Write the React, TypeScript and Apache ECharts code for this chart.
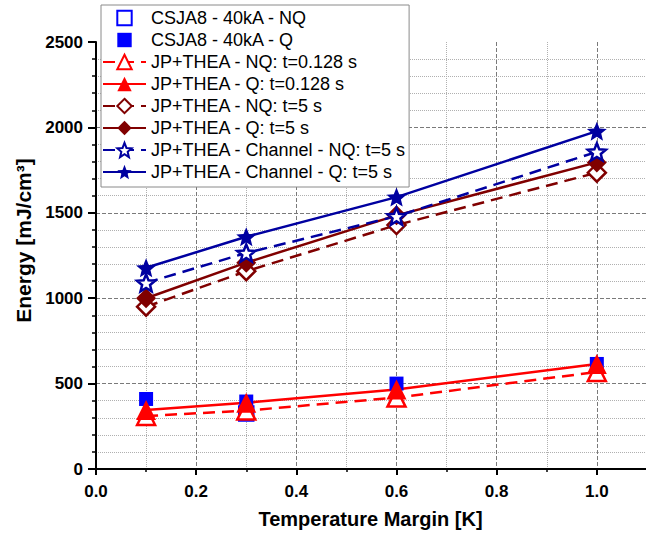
import React, { useEffect, useRef } from "react";
import * as echarts from "echarts";

const xValues = [0.1, 0.3, 0.6, 1.0];
const csjaNQ = [[0.3, 325]];
const csjaQ = [[0.1, 410], [0.3, 395], [0.6, 500], [1.0, 615]];
const thea128NQ = [310, 342, 418, 568];
const thea128Q = [345, 388, 465, 615];
const thea5NQ = [950, 1158, 1428, 1735];
const thea5Q = [1000, 1208, 1485, 1795];
const channelNQ = [1090, 1265, 1480, 1857];
const channelQ = [1178, 1360, 1592, 1978];

const seriesNames = [
  "CSJA8 - 40kA - NQ",
  "CSJA8 - 40kA - Q",
  "JP+THEA - NQ: t=0.128 s",
  "JP+THEA - Q: t=0.128 s",
  "JP+THEA - NQ: t=5 s",
  "JP+THEA - Q: t=5 s",
  "JP+THEA - Channel - NQ: t=5 s",
  "JP+THEA - Channel - Q: t=5 s",
];

const STAR =
  "path://M50,0 L62.93,32.2 L97.55,34.55 L70.92,56.8 L79.39,90.45 L50,72 L20.61,90.45 L29.08,56.8 L2.45,34.55 L37.07,32.2 Z";

const pair = (ys: number[]) => xValues.map((x, i) => [x, ys[i]]);

const FONT = "Arial, 'Liberation Sans', Helvetica, sans-serif";

export default function App() {
  const ref = useRef<HTMLDivElement>(null);
  useEffect(() => {
    if (!ref.current) return;
    const chart = echarts.init(ref.current, undefined, { renderer: "svg" });
    const dash = [12, 7];
    const mk = (
      name: string,
      data: number[][],
      color: string,
      symbol: string,
      size: number,
      hollow: boolean,
      lineType: any,
      lineWidth: number
    ) => ({
      name,
      type: "line",
      data,
      symbol,
      symbolSize: size,
      symbolKeepAspect: true,
      showSymbol: true,
      lineStyle: { color, width: lineWidth, type: lineType },
      itemStyle: hollow
        ? { color: "#ffffff", borderColor: color, borderWidth: 2.5 }
        : { color, borderColor: color, borderWidth: 0 },
      emphasis: { disabled: true },
    });
    const red = "#ff0000";
    const maroon = "#800000";
    const blue = "#0000ff";
    const navy = "#0000a0";
    chart.setOption({
      animation: false,
      textStyle: { fontFamily: FONT },
      grid: { left: 96, right: 0, top: 42, bottom: 66 },
      legend: {
        orient: "vertical",
        left: 101,
        top: 5,
        data: seriesNames,
        selectedMode: false,
        backgroundColor: "#ffffff",
        borderColor: "#8a8a8a",
        borderWidth: 1,
        borderRadius: 0,
        padding: [4, 3, 6, 1],
        itemWidth: 43,
        itemHeight: 18,
        itemGap: 4,
        textStyle: { fontSize: 18, color: "#000", fontFamily: FONT, lineHeight: 18 },
      },
      xAxis: {
        type: "value",
        min: 0,
        max: 1.2,
        interval: 0.2,
        name: "Temperature Margin [K]",
        nameLocation: "middle",
        nameGap: 40,
        nameTextStyle: {
          fontSize: 20,
          fontWeight: "bold",
          color: "#000",
          fontFamily: FONT,
          padding: [0, 52, 0, 0],
        },
        axisLine: { show: true, onZero: false, lineStyle: { color: "#000", width: 2 } },
        axisTick: { show: true, inside: false, length: 6, lineStyle: { color: "#000", width: 2 } },
        minorTick: { show: true, splitNumber: 2, length: 3, lineStyle: { color: "#000", width: 1.5 } },
        axisLabel: {
          margin: 14,
          fontSize: 17,
          fontWeight: "bold",
          color: "#000",
          fontFamily: FONT,
          showMaxLabel: false,
          formatter: (v: number) => (v > 1.05 ? "" : v.toFixed(1)),
        },
        splitLine: { show: true, lineStyle: { color: "#7a7a7a", width: 1, type: "dashed" } },
        minorSplitLine: { show: true, lineStyle: { color: "#b0b0b0", width: 1, type: "dotted" } },
      },
      yAxis: {
        type: "value",
        min: 0,
        max: 2500,
        interval: 500,
        name: "Energy [mJ/cm³]",
        nameLocation: "middle",
        nameGap: 62,
        nameRotate: 90,
        nameTextStyle: {
          fontSize: 21,
          fontWeight: "bold",
          color: "#000",
          fontFamily: FONT,
          padding: [0, 0, 0, 30],
        },
        axisLine: { show: true, onZero: false, lineStyle: { color: "#000", width: 2 } },
        axisTick: { show: true, inside: false, length: 8, lineStyle: { color: "#000", width: 2 } },
        minorTick: { show: true, splitNumber: 5, length: 4, lineStyle: { color: "#000", width: 1.5 } },
        axisLabel: {
          margin: 13,
          fontSize: 17,
          fontWeight: "bold",
          color: "#000",
          fontFamily: FONT,
          formatter: (v: number) => String(v),
        },
        splitLine: {
          show: true,
          showMaxLine: false,
          lineStyle: { color: "#7a7a7a", width: 1, type: "dashed" },
        },
        minorSplitLine: { show: true, lineStyle: { color: "#b0b0b0", width: 1, type: "dotted" } },
      },
      series: [
        { ...mk(seriesNames[0], csjaNQ, blue, "rect", 14, true, "solid", 0), lineStyle: { width: 0, color: blue, opacity: 0 } },
        { ...mk(seriesNames[1], csjaQ, blue, "rect", 14, false, "solid", 0), lineStyle: { width: 0, color: blue, opacity: 0 } },
        mk(seriesNames[2], pair(thea128NQ), red, "triangle", 18, true, dash, 2.5),
        mk(seriesNames[3], pair(thea128Q), red, "triangle", 20, false, "solid", 2.5),
        mk(seriesNames[4], pair(thea5NQ), maroon, "diamond", 18, true, dash, 2.5),
        mk(seriesNames[5], pair(thea5Q), maroon, "diamond", 20, false, "solid", 2.5),
        mk(seriesNames[6], pair(channelNQ), navy, STAR, 18, true, dash, 2.5),
        mk(seriesNames[7], pair(channelQ), navy, STAR, 20, false, "solid", 2.5),
      ],
    });
    return () => chart.dispose();
  }, []);
  return (
    <div
      style={{
        position: "fixed",
        left: 0,
        top: 0,
        width: 646,
        height: 535,
        overflow: "hidden",
        background: "#fff",
      }}
    >
      <div ref={ref} style={{ width: 697, height: 535 }} />
    </div>
  );
}
